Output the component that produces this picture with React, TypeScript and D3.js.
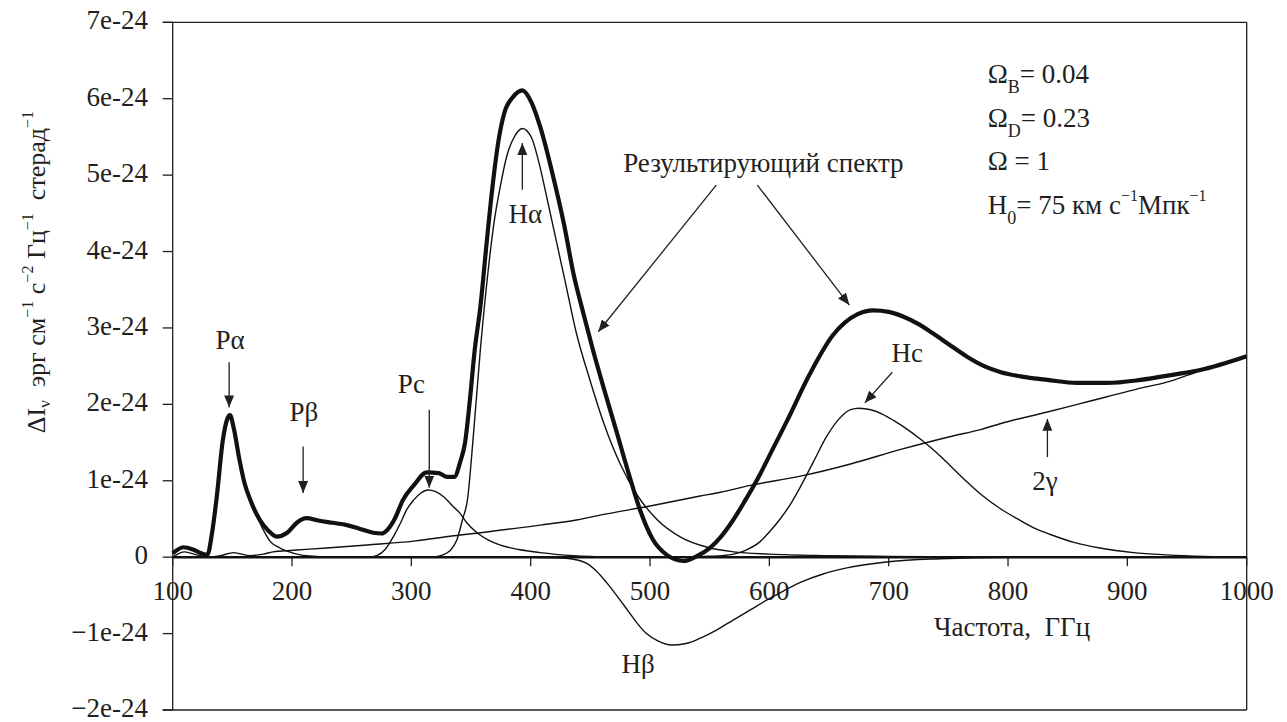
import * as d3 from 'd3';

// intensities in units of 1e-24 erg cm^-1 s^-2 Hz^-1 sr^-1, frequency in GHz
const totalSpectrum: [number, number][] = [
  [100, 0.05], [109, 0.13], [117, 0.1], [124, 0.05], [129, 0.03], [133, 0.32], [137, 0.8],
  [142, 1.53], [146, 1.82], [148, 1.86], [151, 1.7], [156, 1.27], [160, 0.98], [165, 0.75],
  [173, 0.49], [180, 0.35], [187, 0.27], [196, 0.32], [204, 0.45], [212, 0.51], [222, 0.48],
  [234, 0.45], [246, 0.42], [257, 0.37], [268, 0.32], [275, 0.31], [280, 0.36], [286, 0.5],
  [293, 0.75], [302, 0.94], [313, 1.11], [323, 1.1], [330, 1.05], [336, 1.05], [341, 1.25],
  [345, 1.5], [349, 2.05], [353, 2.7], [358, 3.3], [363, 4.1], [368, 4.85], [373, 5.45],
  [378, 5.82], [385, 6.02], [393, 6.11], [401, 5.94], [408, 5.63], [419, 4.97], [428, 4.35],
  [436, 3.7], [444, 3.2], [452, 2.72], [462, 2.17], [472, 1.64], [482, 1.1], [492, 0.6],
  [502, 0.24], [514, 0.03], [528, -0.05], [540, 0.02], [550, 0.12], [559, 0.26], [569, 0.47],
  [580, 0.75], [592, 1.08], [603, 1.42], [615, 1.79], [634, 2.4], [653, 2.9], [674, 3.18],
  [687, 3.23], [700, 3.21], [712, 3.15], [725, 3.05], [737, 2.93], [750, 2.79], [766, 2.62],
  [780, 2.5], [794, 2.42], [813, 2.36], [833, 2.32], [858, 2.28], [883, 2.28], [911, 2.32],
  [939, 2.39], [961, 2.45], [1000, 2.63],
];

const hAlpha: [number, number][] = [
  [318, 0], [326.5, 0.03], [332, 0.08], [338, 0.22], [343, 0.5], [347, 0.75], [352, 1.6],
  [358, 2.75], [364, 3.7], [369, 4.35], [374.5, 4.85], [380, 5.25], [387, 5.52], [393, 5.61],
  [401, 5.48], [406, 5.22], [415, 4.6], [422, 4.1], [429, 3.6], [438, 2.95], [450, 2.3],
  [462, 1.72], [475, 1.22], [489, 0.82], [506, 0.49], [526, 0.26], [548, 0.13], [570, 0.07],
  [600, 0.04], [650, 0.02], [700, 0.01], [800, 0], [1000, 0],
];

const hBeta: [number, number][] = [
  [400, 0], [425, -0.01], [440, -0.04], [447, -0.08], [455, -0.18], [464, -0.34], [472, -0.5],
  [481, -0.69], [489, -0.86], [497, -1.0], [507, -1.1], [518, -1.15], [530, -1.13],
  [542, -1.06], [556, -0.95], [570, -0.82], [584, -0.69], [598, -0.56], [612, -0.44],
  [626, -0.33], [645, -0.22], [665, -0.14], [700, -0.06], [743, -0.02], [800, 0], [1000, 0],
];

const hCont: [number, number][] = [
  [520, 0], [545, 0.01], [560, 0.02], [570, 0.04], [580, 0.09], [592, 0.2], [600, 0.33],
  [609, 0.5], [618, 0.7], [626, 0.92], [637, 1.25], [648, 1.58], [659, 1.82], [668, 1.93],
  [675, 1.95], [685, 1.93], [695, 1.87], [704, 1.79], [715, 1.68], [727, 1.54], [740, 1.37],
  [752, 1.19], [766, 0.98], [779, 0.8], [794, 0.63], [808, 0.5], [822, 0.38], [835, 0.3],
  [856, 0.19], [877, 0.12], [905, 0.06], [933, 0.03], [965, 0.01], [1000, 0],
];

const pCont: [number, number][] = [
  [265, 0], [271, 0.02], [278, 0.1], [285, 0.27], [291, 0.45], [296, 0.62], [302, 0.75],
  [308, 0.84], [314, 0.88], [320, 0.86], [327, 0.79], [334, 0.68], [341, 0.57], [347, 0.44],
  [355, 0.32], [365, 0.22], [374, 0.16], [390, 0.1], [408, 0.06], [436, 0.02], [470, 0],
];

const pAlpha: [number, number][] = [
  [125, 0], [129, 0.02], [133, 0.3], [137, 0.8], [142, 1.53], [146, 1.82], [148, 1.86],
  [151, 1.7], [156, 1.27], [160, 0.98], [165, 0.72], [173, 0.45], [182, 0.2], [190, 0.12],
  [196, 0.08], [207, 0.03], [220, 0.01], [240, 0],
];

const twoPhoton: [number, number][] = [
  [100, 0], [110, 0.07], [120, 0.03], [130, 0.0], [140, 0.02], [151, 0.06], [165, 0.02],
  [176, 0.04], [184, 0.07], [201, 0.09], [229, 0.12], [263, 0.16], [302, 0.21], [341, 0.29],
  [358, 0.32], [408, 0.42], [436, 0.48], [458, 0.55], [500, 0.67], [542, 0.8], [559, 0.85],
  [584, 0.94], [626, 1.06], [668, 1.22], [710, 1.41], [752, 1.58], [777, 1.67], [794, 1.75],
  [833, 1.9], [858, 2.0], [883, 2.1], [908, 2.2], [933, 2.29], [961, 2.44], [1000, 2.63],
];

const xTicks = [100, 200, 300, 400, 500, 600, 700, 800, 900, 1000];
const yTicks = [-2, -1, 0, 1, 2, 3, 4, 5, 6, 7];
const yTickLabels = ['−2e-24', '−1e-24', '0', '1e-24', '2e-24', '3e-24', '4e-24', '5e-24', '6e-24', '7e-24'];

const labels: { text: string; f: number; v: number }[] = [
  { text: 'Pα', f: 148, v: 2.72 },
  { text: 'Pβ', f: 210, v: 1.78 },
  { text: 'Pc', f: 300, v: 2.15 },
  { text: 'Hα', f: 395.5, v: 4.37 },
  { text: 'Результирующий спектр', f: 595, v: 5.04 },
  { text: 'Hc', f: 715.5, v: 2.55 },
  { text: '2γ', f: 831, v: 0.88 },
  { text: 'Hβ', f: 490, v: -1.52 },
];

const arrows: [number, number, number, number][] = [
  [147.3, 2.55, 147.3, 1.96],
  [209.3, 1.45, 209.3, 0.84],
  [315, 1.93, 315, 0.91],
  [393, 4.81, 393, 5.42],
  [555.5, 4.87, 456.6, 2.95],
  [589.9, 4.87, 667, 3.3],
  [703, 2.42, 680, 2.02],
  [833, 1.31, 833, 1.81],
];

const W = 1287;
const H = 722;
const ink = '#231f20';
const serif = { fontFamily: "'Liberation Serif', 'Times New Roman', serif" };

export default function App() {
  const x = d3.scaleLinear().domain([100, 1000]).range([172.7, 1246.7]);
  const y = d3.scaleLinear().domain([-2, 7]).range([710, 22.3]);
  const line = d3
    .line<[number, number]>()
    .x((d) => x(d[0]))
    .y((d) => y(d[1]))
    .curve(d3.curveMonotoneX);

  const [xl, xr] = x.range();
  const [yb, yt] = y.range();
  const thin = [twoPhoton, pAlpha, pCont, hAlpha, hBeta, hCont];
  const px = x(783);

  return (
    <svg
      width={W}
      height={H}
      style={{ position: 'absolute', left: 0, top: 0, background: '#fff', ...serif }}
    >
      <defs>
        <marker
          id="ah"
          viewBox="0 0 12 10"
          refX={12}
          refY={5}
          markerWidth={12}
          markerHeight={10}
          markerUnits="userSpaceOnUse"
          orient="auto"
        >
          <path d="M0,0L12,5L0,10z" fill={ink} />
        </marker>
      </defs>

      {/* frame */}
      <g stroke={ink} strokeWidth={1.3} fill="none">
        <line x1={xl - 10} x2={xr} y1={yt} y2={yt} />
        <line x1={xl - 10} x2={xr} y1={yb} y2={yb} />
        <line x1={xl} x2={xl} y1={yt} y2={yb} />
        <line x1={xr} x2={xr} y1={yt} y2={yb} />
        {yTicks.map((t) => (
          <line key={t} x1={xl - 10} x2={xl} y1={y(t)} y2={y(t)} />
        ))}
        {xTicks.map((t) => (
          <line key={t} x1={x(t)} x2={x(t)} y1={y(0)} y2={y(0) + 9} />
        ))}
      </g>

      {/* tick labels */}
      <g fill={ink} fontSize={27} style={serif}>
        {yTicks.map((t, i) => (
          <text key={t} x={148} y={y(t) + 7} textAnchor="end">
            {yTickLabels[i]}
          </text>
        ))}
        {xTicks.map((t) => (
          <text key={t} x={x(t)} y={y(0) + 43} textAnchor="middle">
            {t}
          </text>
        ))}
        <text x={x(738)} y={y(0) + 79} style={{ whiteSpace: 'pre' }}>
          {'Частота,  ГГц'}
        </text>
      </g>

      {/* y-axis title */}
      <text
        transform="translate(45,272) rotate(-90)"
        textAnchor="middle"
        fill={ink}
        fontSize={26}
        style={{ whiteSpace: 'pre', ...serif }}
      >
        ΔI
        <tspan dy={5} fontSize={17}>ν</tspan>
        <tspan dy={-5}>{'  эрг см'}</tspan>
        <tspan dy={-12} fontSize={16}>−1</tspan>
        <tspan dy={12}>{' с'}</tspan>
        <tspan dy={-12} fontSize={16}>−2</tspan>
        <tspan dy={12}>{' Гц'}</tspan>
        <tspan dy={-12} fontSize={16}>−1</tspan>
        <tspan dy={12}>{'  стерад'}</tspan>
        <tspan dy={-12} fontSize={16}>−1</tspan>
      </text>

      {/* curves */}
      <g fill="none" stroke="#111" strokeLinejoin="round">
        {thin.map((s, i) => (
          <path key={i} d={line(s) ?? ''} strokeWidth={1.4} />
        ))}
        <line x1={xl} x2={xr} y1={y(0)} y2={y(0)} strokeWidth={2.6} />
        <path d={line(totalSpectrum) ?? ''} strokeWidth={4.2} />
      </g>

      {/* annotations */}
      <g stroke={ink} strokeWidth={1.3}>
        {arrows.map((a, i) => (
          <line key={i} x1={x(a[0])} y1={y(a[1])} x2={x(a[2])} y2={y(a[3])} markerEnd="url(#ah)" />
        ))}
      </g>
      <g fill={ink} fontSize={27} style={serif}>
        {labels.map((l) => (
          <text key={l.text} x={x(l.f)} y={y(l.v)} textAnchor="middle">
            {l.text}
          </text>
        ))}
      </g>

      {/* parameters */}
      <g fill={ink} fontSize={27} style={serif}>
        <text x={px} y={y(6.2)}>
          Ω<tspan dy={10} fontSize={18}>B</tspan>
          <tspan dy={-10}>= 0.04</tspan>
        </text>
        <text x={px} y={y(5.63)}>
          Ω<tspan dy={10} fontSize={18}>D</tspan>
          <tspan dy={-10}>= 0.23</tspan>
        </text>
        <text x={px} y={y(5.07)}>Ω = 1</text>
        <text x={px} y={y(4.49)}>
          H<tspan dy={10} fontSize={18}>0</tspan>
          <tspan dy={-10}>= 75 км с</tspan>
          <tspan dy={-13} fontSize={16}>−1</tspan>
          <tspan dy={13}>Мпк</tspan>
          <tspan dy={-13} fontSize={16}>−1</tspan>
        </text>
      </g>
    </svg>
  );
}
